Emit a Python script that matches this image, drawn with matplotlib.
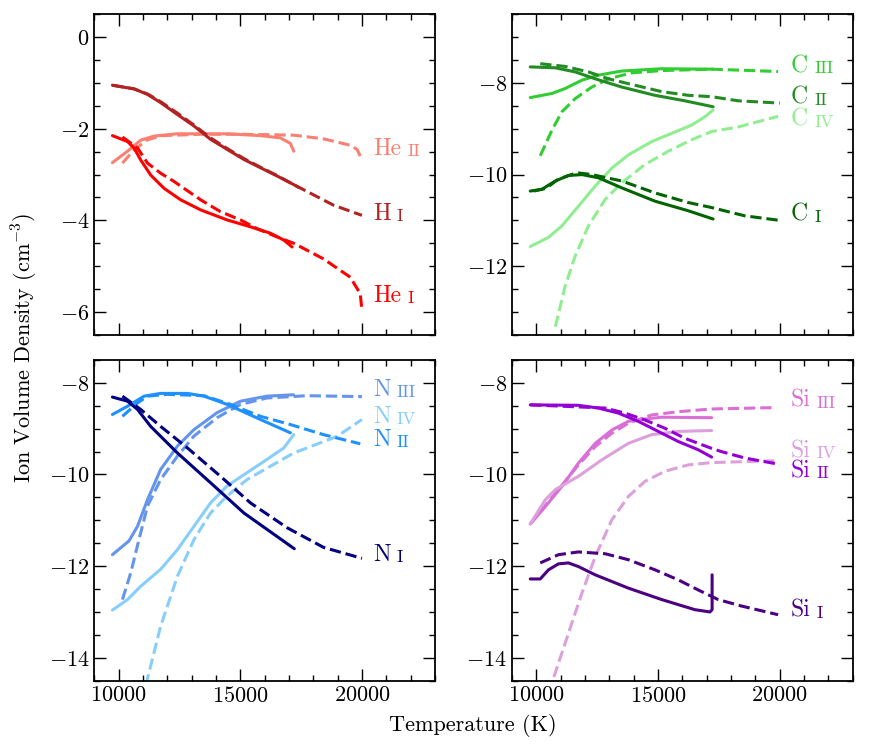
import matplotlib
matplotlib.use('Agg')
import matplotlib.pyplot as plt
from matplotlib.ticker import MultipleLocator

plt.rcParams['font.family'] = 'serif'
plt.rcParams['font.serif'] = ['cmr10']
plt.rcParams['mathtext.fontset'] = 'cm'
plt.rcParams['axes.formatter.use_mathtext'] = True
plt.rcParams['font.size'] = 16

# ---- data (T in K, log density) ----
# solid = first model, dashed = second model
hI_T = [9750, 10640, 11190, 11730, 12420, 13100, 13780, 14460, 15150, 15830, 16510, 17200, 17400]
hI_n = [-1.05, -1.13, -1.25, -1.43, -1.69, -1.94, -2.23, -2.45, -2.67, -2.85, -3.03, -3.22, -3.28]
hI_Td = [9750, 10640, 11190, 11730, 12420, 13100, 13780, 14460, 15150, 15830, 16510, 17200,
         18840, 20000]
hI_nd = [-1.05, -1.13, -1.24, -1.41, -1.66, -1.92, -2.20, -2.43, -2.65, -2.84, -3.02, -3.22,
         -3.67, -3.89]

heII_T = [9750, 10370, 10910, 11460, 12400, 14460, 15830, 16650, 17060, 17200]
heII_n = [-2.74, -2.49, -2.25, -2.16, -2.11, -2.11, -2.15, -2.20, -2.32, -2.49]
heII_Td = [10160, 10640, 11190, 11800, 13400, 15000, 17200, 18420, 19520, 19800, 20000]
heII_nd = [-2.75, -2.46, -2.24, -2.15, -2.12, -2.12, -2.14, -2.22, -2.36, -2.45, -2.68]

heI_T = [9750, 10370, 10640, 10910, 11320, 11870, 12550, 13370, 14460, 15420, 16240, 16790, 17130]
heI_n = [-2.15, -2.28, -2.42, -2.68, -3.01, -3.30, -3.55, -3.77, -3.99, -4.14, -4.28, -4.43, -4.58]
heI_Td = [10160, 10780, 11190, 11730, 12280, 13370, 14190, 15010, 15690, 16510, 17200, 18420,
          19520, 19930, 20000]
heI_nd = [-2.18, -2.42, -2.75, -2.97, -3.15, -3.55, -3.81, -3.99, -4.18, -4.36, -4.50, -4.84,
          -5.24, -5.60, -5.97]

cIII_T = [9750, 10640, 11190, 11870, 12550, 13510, 15150, 17260]
cIII_n = [-8.32, -8.23, -8.12, -7.94, -7.83, -7.74, -7.69, -7.70]
cIII_Td = [10160, 10640, 11050, 11600, 12280, 12960, 13920, 15150, 17200, 19930]
cIII_nd = [-9.59, -9.03, -8.63, -8.34, -8.09, -7.91, -7.78, -7.73, -7.70, -7.75]

cII_T = [9750, 10780, 11600, 12420, 13510, 14870, 16100, 17260]
cII_n = [-7.65, -7.67, -7.76, -7.91, -8.09, -8.27, -8.39, -8.52]
cII_Td = [10160, 11190, 12140, 12960, 14050, 15150, 16240, 17200, 18290, 20000]
cII_nd = [-7.58, -7.64, -7.76, -7.91, -8.05, -8.19, -8.27, -8.30, -8.39, -8.44]

cIV_T = [9750, 10500, 11050, 11730, 12420, 13100, 13780, 14740, 15560, 16380, 16920, 17260]
cIV_n = [-11.57, -11.37, -11.12, -10.69, -10.25, -9.86, -9.57, -9.28, -9.10, -8.92, -8.74, -8.59]
cIV_Td = [10780, 11190, 11600, 12140, 12830, 13510, 14460, 15420, 16380, 17200, 18290, 19930]
cIV_nd = [-13.32, -12.42, -11.77, -11.12, -10.54, -10.18, -9.78, -9.49, -9.24, -9.06, -8.96,
          -8.73]

cI_T = [9750, 10230, 10780, 11320, 11870, 12550, 13510, 14870, 16240, 17260]
cI_n = [-10.36, -10.32, -10.14, -10.02, -10.00, -10.07, -10.29, -10.58, -10.79, -10.97]
cI_Td = [9900, 10400, 10900, 11660, 12280, 13510, 14870, 16240, 17200, 18560, 20000]
cI_nd = [-10.36, -10.30, -10.10, -9.96, -10.00, -10.14, -10.40, -10.61, -10.72, -10.90, -11.00]

nI_T = [9750, 10370, 10780, 11320, 12420, 13780, 15150, 17220]
nI_n = [-8.31, -8.40, -8.58, -8.95, -9.53, -10.18, -10.84, -11.62]
nI_Td = [10160, 10910, 11730, 12830, 14190, 15420, 16920, 18420, 20000]
nI_nd = [-8.29, -8.58, -8.95, -9.42, -10.04, -10.62, -11.16, -11.59, -11.83]

nIII_T = [9750, 10430, 10780, 11190, 11730, 12420, 13100, 14050, 15010, 16100, 17190]
nIII_n = [-11.75, -11.45, -11.13, -10.55, -9.89, -9.38, -9.02, -8.65, -8.40, -8.29, -8.26]
nIII_Td = [10160, 10500, 10840, 11190, 11730, 12420, 13100, 14050, 15010, 16100, 17740, 20000]
nIII_nd = [-12.73, -12.15, -11.42, -10.69, -10.11, -9.60, -9.16, -8.76, -8.47, -8.33, -8.28,
           -8.30]

nII_T = [9750, 10370, 11050, 11730, 12830, 13510, 14460, 15830, 17060]
nII_n = [-8.69, -8.51, -8.29, -8.23, -8.23, -8.29, -8.47, -8.80, -9.09]
nII_Td = [10160, 10780, 11190, 12000, 13510, 14600, 15830, 17060, 18420, 19930]
nII_nd = [-8.73, -8.44, -8.29, -8.25, -8.28, -8.47, -8.73, -8.91, -9.13, -9.33]

nIV_T = [9750, 10370, 10910, 11730, 12420, 13100, 13780, 14460, 15280, 16100, 16790, 17200]
nIV_n = [-12.96, -12.73, -12.44, -12.07, -11.64, -11.13, -10.62, -10.25, -9.96, -9.67, -9.42,
         -9.13]
nIV_Td = [11120, 11730, 12420, 13100, 13780, 14460, 15280, 16240, 17200, 18970, 20000]
nIV_nd = [-14.60, -13.31, -12.22, -11.42, -10.84, -10.47, -10.11, -9.82, -9.53, -9.17, -8.80]

siII_T = [9750, 11730, 12550, 13370, 14190, 15010, 15830, 16650, 17200]
siII_n = [-8.48, -8.49, -8.55, -8.66, -8.84, -9.06, -9.28, -9.46, -9.62]
siII_Td = [9750, 12830, 13640, 14460, 15280, 16100, 17200, 17600, 18560, 20000]
siII_nd = [-8.48, -8.55, -8.66, -8.81, -8.99, -9.21, -9.43, -9.50, -9.64, -9.78]

siIII_T = [9750, 10370, 11050, 11730, 12420, 13100, 13780, 14460, 15150, 17200]
siIII_n = [-11.08, -10.70, -10.26, -9.75, -9.32, -9.03, -8.84, -8.79, -8.75, -8.76]
siIII_Td = [9750, 10780, 11730, 12420, 13100, 13780, 14740, 15830, 17200, 19800]
siIII_nd = [-11.08, -10.41, -9.79, -9.39, -9.10, -8.88, -8.70, -8.63, -8.57, -8.54]

siIV_T = [9750, 10370, 10780, 11730, 12690, 13780, 14740, 15830, 17200]
siIV_n = [-11.08, -10.55, -10.33, -10.04, -9.68, -9.32, -9.13, -9.06, -9.04]
siIV_Td = [10720, 11460, 11870, 12420, 13100, 13780, 14460, 15280, 16240, 17200, 19800]
siIV_nd = [-14.42, -13.24, -12.59, -11.79, -10.99, -10.48, -10.15, -9.93, -9.79, -9.74, -9.70]

siI_T = [9750, 10160, 10500, 10910, 11320, 11730, 12420, 13780, 15150, 16510, 17130, 17220, 17220]
siI_n = [-12.28, -12.28, -12.08, -11.95, -11.93, -12.01, -12.19, -12.48, -12.73, -12.95, -13.00,
         -12.95, -12.19]
siI_Td = [10160, 10910, 11730, 12830, 13780, 14870, 15830, 16650, 17470, 18420, 19930]
siI_nd = [-11.93, -11.75, -11.69, -11.73, -11.86, -12.08, -12.30, -12.52, -12.73, -12.87, -13.06]

# label text: element, numeral, label height
he_labels = [('He', 'II', -2.43), ('H', 'I', -3.85), ('He', 'I', -5.64)]
c_labels = [('C', 'III', -7.63), ('C', 'II', -8.32), ('C', 'IV', -8.80), ('C', 'I', -10.88)]
n_labels = [('N', 'III', -8.15), ('N', 'IV', -8.74), ('N', 'II', -9.24), ('N', 'I', -11.76)]
si_labels = [('Si', 'III', -8.39), ('Si', 'IV', -9.49), ('Si', 'II', -9.93), ('Si', 'I', -12.97)]

panels = [
    ([(heII_T, heII_n, heII_Td, heII_nd, 'salmon'),
      (hI_T, hI_n, hI_Td, hI_nd, 'firebrick'),
      (heI_T, heI_n, heI_Td, heI_nd, 'red')],
     he_labels, ['salmon', 'firebrick', 'red'], (-6.5, 0.5)),
    ([(cIII_T, cIII_n, cIII_Td, cIII_nd, 'limegreen'),
      (cII_T, cII_n, cII_Td, cII_nd, 'forestgreen'),
      (cIV_T, cIV_n, cIV_Td, cIV_nd, 'lightgreen'),
      (cI_T, cI_n, cI_Td, cI_nd, 'darkgreen')],
     c_labels, ['limegreen', 'forestgreen', 'lightgreen', 'darkgreen'], (-13.5, -6.5)),
    ([(nIII_T, nIII_n, nIII_Td, nIII_nd, 'cornflowerblue'),
      (nIV_T, nIV_n, nIV_Td, nIV_nd, 'lightskyblue'),
      (nII_T, nII_n, nII_Td, nII_nd, 'dodgerblue'),
      (nI_T, nI_n, nI_Td, nI_nd, 'navy')],
     n_labels, ['cornflowerblue', 'lightskyblue', 'dodgerblue', 'navy'], (-14.5, -7.5)),
    ([(siIII_T, siIII_n, siIII_Td, siIII_nd, 'orchid'),
      (siIV_T, siIV_n, siIV_Td, siIV_nd, 'plum'),
      (siII_T, siII_n, siII_Td, siII_nd, 'darkviolet'),
      (siI_T, siI_n, siI_Td, siI_nd, 'indigo')],
     si_labels, ['orchid', 'plum', 'darkviolet', 'indigo'], (-14.5, -7.5)),
]

fig, axes = plt.subplots(2, 2, figsize=(8.72, 7.48), dpi=100)
fig.subplots_adjust(left=0.108, right=0.978, top=0.981, bottom=0.09,
                    wspace=0.226, hspace=0.078)

for ax, (curves, labels, lcolors, ylim) in zip(axes.flat, panels):
    for Ts, ns, Td, nd, col in curves:
        ax.plot(Ts, ns, color=col, lw=2.2, solid_capstyle='round', solid_joinstyle='round')
        ax.plot(Td, nd, color=col, lw=2.2, ls='--')
    for (el, num, yl), col in zip(labels, lcolors):
        t = ax.text(20450, yl, el, color=col, fontsize=17, va='center', ha='left')
        ax.annotate(num, xy=(1, 0.04), xycoords=t, xytext=(4.5, 0),
                    textcoords='offset points', color=col, fontsize=12.5,
                    va='bottom', ha='left')
    ax.set_xlim(9000, 23000)
    ax.set_ylim(*ylim)
    ax.xaxis.set_major_locator(MultipleLocator(5000))
    ax.xaxis.set_minor_locator(MultipleLocator(1000))
    ax.yaxis.set_major_locator(MultipleLocator(2))
    ax.yaxis.set_minor_locator(MultipleLocator(0.5))
    ax.tick_params(which='both', direction='in', top=True, right=True, width=1.0)
    ax.tick_params(which='major', length=8.5, labelsize=16)
    ax.tick_params(which='minor', length=4)
    for s in ax.spines.values():
        s.set_linewidth(1.3)

for ax in axes[0]:
    ax.tick_params(labelbottom=False)

fig.text(0.5425, 0.015, 'Temperature (K)', ha='center', va='bottom', fontsize=16)
fig.text(0.012, 0.535, 'Ion Volume Density (cm$^{-3}$)', rotation=90,
         ha='left', va='center', fontsize=16)

fig.savefig('out.png', dpi=100)
